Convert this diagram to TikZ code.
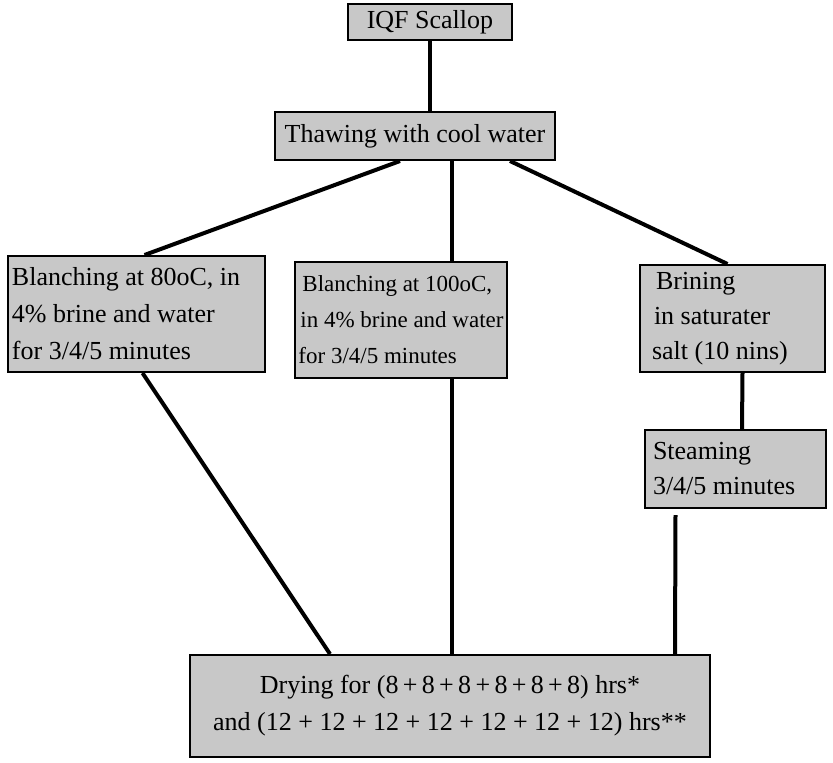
\documentclass[tikz,border=0pt]{standalone}
\usepackage{fontspec}
\setmainfont{Liberation Serif}
\usetikzlibrary{calc,positioning}
\definecolor{boxGray}{RGB}{200,200,200}

\tikzset{
    stepbox/.style={draw=black, fill=boxGray, line width=2pt, inner sep=4pt,
        font=\fontsize{26}{37}\selectfont},
    link/.style={draw=black, line width=4pt}
}

\begin{document}
\begin{tikzpicture}[x=1pt,y=-1pt]
    \useasboundingbox (0,0) rectangle (833,763);

    % process steps
    \node[stepbox, minimum width=164pt, minimum height=36pt] (iqf) at (430,22) {IQF Scallop};
    \node[stepbox, minimum width=280pt, minimum height=48pt] (thaw) at (415,136) {Thawing with cool water};
    \node[stepbox, minimum width=257pt, minimum height=116pt, text width=249pt, align=flush left] (blanchA) at (136.5,314)
        {Blanching at 80oC, in\\4\% brine and water\\for 3/4/5 minutes};
    \node[stepbox, minimum width=208pt, minimum height=116pt, inner xsep=3pt, align=flush left,
        font=\fontsize{23}{36}\selectfont] (blanchB) at (401,320)
        {\hspace*{4pt}Blanching at 100oC,\\\hspace*{2pt}in 4\% brine and water\\for 3/4/5 minutes};
    \node[stepbox, minimum width=185pt, minimum height=107pt, text width=177pt, align=flush left,
        font=\fontsize{26}{35}\selectfont] (brine) at (732.5,318.5)
        {\hspace*{12pt}Brining\\\hspace*{10pt}in saturater\\\hspace*{8pt}salt (10 nins)};
    \node[stepbox, minimum width=181pt, minimum height=78pt, text width=173pt, align=flush left,
        font=\fontsize{26}{35}\selectfont] (steam) at (735.5,469)
        {\hspace*{4pt}Steaming\\\hspace*{4pt}3/4/5 minutes};
    \node[stepbox, minimum width=520pt, minimum height=102pt, align=center] (dry) at (450,706)
        {Drying for (8\,+\,8\,+\,8\,+\,8\,+\,8\,+\,8) hrs*\\and (12 + 12 + 12 + 12 + 12 + 12 + 12) hrs**};

    % connectors
    \draw[link] (iqf.south) -- (iqf.south |- thaw.north);
    \draw[link] ($(thaw.south)+(-15,0)$) -- ($(blanchA.north)+(8,0)$);
    \draw[link] ($(thaw.south)+(37,0)$) -- ($(blanchB.north)+(51,0)$);
    \draw[link] ($(thaw.south)+(95,0)$) -- ($(brine.north)+(-5,0)$);
    \draw[link] ($(blanchA.south)+(6,0)$) -- ($(dry.north)+(-120,0)$);
    \draw[link] ($(blanchB.south)+(51,0)$) -- ($(dry.north)+(2,0)$);
    \draw[link] ($(brine.south)+(10,0)$) -- ($(steam.north)+(6.5,0)$);
    \draw[link] ($(steam.south)+(-60,6)$) -- ($(dry.north)+(225,0)$);
\end{tikzpicture}
\end{document}
